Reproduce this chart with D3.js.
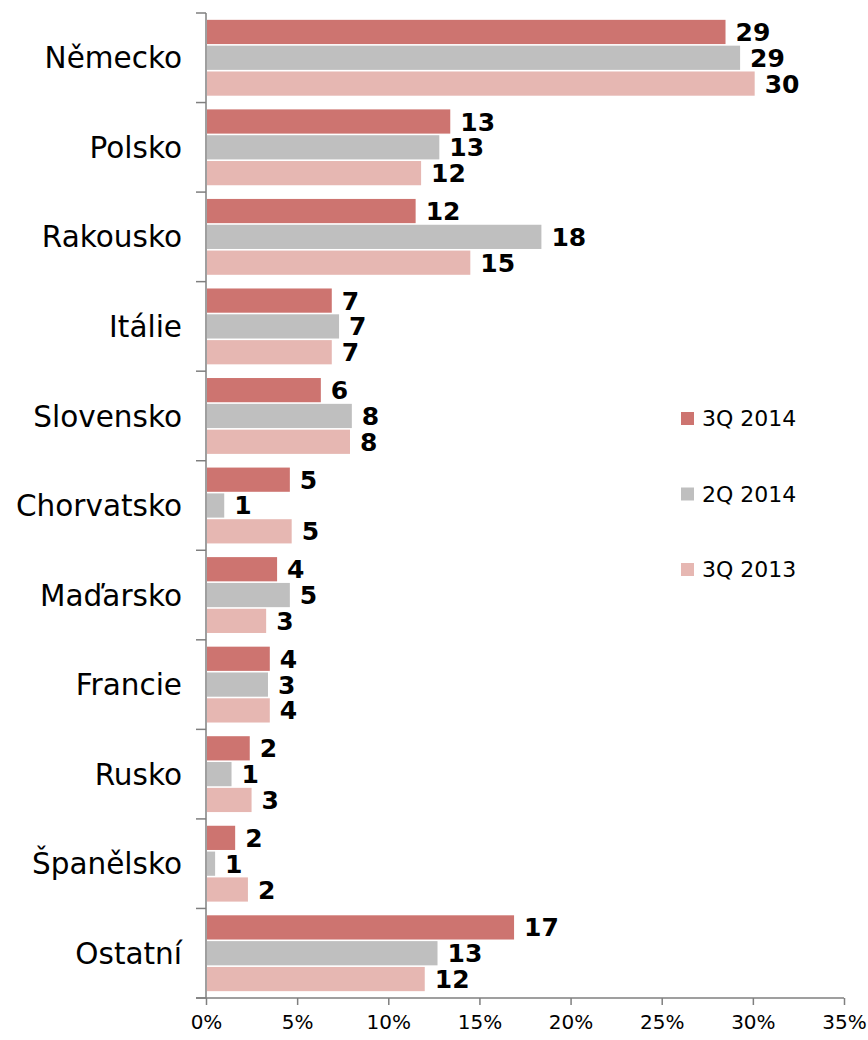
<!DOCTYPE html>
<html>
<head>
<meta charset="utf-8">
<script src="https://cdn.jsdelivr.net/npm/d3@7/dist/d3.min.js"></script>
<style>
  html, body { margin: 0; padding: 0; background: #fff; }
  svg { display: block; font-family: "DejaVu Sans", Verdana, sans-serif; }
</style>
</head>
<body>
<svg id="chart" width="868" height="1040"></svg>
<script>
// Countries (share in %), three periods
const categories = ["Německo", "Polsko", "Rakousko", "Itálie", "Slovensko", "Chorvatsko",
                    "Maďarsko", "Francie", "Rusko", "Španělsko", "Ostatní"];
const seriesNames = ["3Q 2014", "2Q 2014", "3Q 2013"];
const q3_2014 = [28.5, 13.4, 11.5, 6.9, 6.3, 4.6, 3.9, 3.5, 2.4, 1.6, 16.9];
const q2_2014 = [29.3, 12.8, 18.4, 7.3, 8.0, 1.0, 4.6, 3.4, 1.4, 0.5, 12.7];
const q3_2013 = [30.1, 11.8, 14.5, 6.9, 7.9, 4.7, 3.3, 3.5, 2.5, 2.3, 12.0];
const xTicks = [0, 5, 10, 15, 20, 25, 30, 35];
const colors = ["#cd7470", "#bfbfbf", "#e6b7b2"];

const seriesValues = [q3_2014, q2_2014, q3_2013];

const svg = d3.select("#chart");
const plotLeft = 206, plotRight = 844, plotTop = 13, plotBottom = 998;

const x = d3.scaleLinear().domain([0, 35]).range([plotLeft, plotRight]);
const y = d3.scaleBand().domain(categories).range([plotTop, plotBottom])
  .paddingInner(0.135).paddingOuter(0.0675);
const ySub = d3.scaleBand().domain(seriesNames).range([0, y.bandwidth()]);

// Bars
const groups = svg.append("g").selectAll("g")
  .data(categories)
  .join("g")
  .attr("transform", d => `translate(0,${y(d)})`);

groups.selectAll("rect")
  .data((c, i) => seriesNames.map((s, k) => ({ s, k, v: seriesValues[k][i] })))
  .join("rect")
  .attr("x", x(0) + 1)
  .attr("y", d => ySub(d.s) + 0.8)
  .attr("width", d => x(d.v) - x(0) - 1)
  .attr("height", ySub.bandwidth() - 1.6)
  .attr("fill", d => colors[d.k]);

// Value labels
groups.selectAll("text")
  .data((c, i) => seriesNames.map((s, k) => ({ s, k, v: seriesValues[k][i] })))
  .join("text")
  .attr("x", d => x(d.v) + 10)
  .attr("y", d => ySub(d.s) + ySub.bandwidth() / 2)
  .attr("dy", "0.36em")
  .attr("font-size", 25)
  .attr("font-weight", "bold")
  .attr("fill", "#000")
  .text(d => Math.round(d.v));

// Y axis with boundary ticks
const axisColor = "#7f7f7f";
svg.append("line")
  .attr("x1", plotLeft).attr("x2", plotLeft)
  .attr("y1", plotTop).attr("y2", plotBottom)
  .attr("stroke", axisColor).attr("stroke-width", 1.5);
const boundaries = categories.map(c => y(c) - y.step() * y.paddingInner() / 2);
boundaries.push(plotBottom);
boundaries[0] = plotTop;
svg.append("g").selectAll("line")
  .data(boundaries)
  .join("line")
  .attr("x1", plotLeft - 10).attr("x2", plotLeft)
  .attr("y1", d => d).attr("y2", d => d)
  .attr("stroke", axisColor).attr("stroke-width", 1.5);

// Category labels
svg.append("g").selectAll("text")
  .data(categories)
  .join("text")
  .attr("x", 182)
  .attr("y", d => y(d) + y.bandwidth() / 2)
  .attr("dy", "0.36em")
  .attr("text-anchor", "end")
  .attr("font-size", 29.5)
  .attr("fill", "#000")
  .text(d => d);

// X axis
const xAxis = d3.axisBottom(x)
  .tickValues(xTicks)
  .tickSize(7)
  .tickPadding(10)
  .tickFormat(d => d + "%");
const gx = svg.append("g")
  .attr("transform", `translate(0,${plotBottom})`)
  .call(xAxis);
gx.select(".domain").remove();
gx.selectAll(".tick line").attr("stroke", axisColor).attr("stroke-width", 1.5);
gx.selectAll(".tick text")
  .attr("font-size", 20)
  .attr("font-family", "DejaVu Sans, Verdana, sans-serif")
  .attr("fill", "#000");
svg.append("line")
  .attr("x1", plotLeft - 10).attr("x2", plotRight)
  .attr("y1", plotBottom).attr("y2", plotBottom)
  .attr("stroke", axisColor).attr("stroke-width", 1.5);

// Legend
const legend = svg.append("g").selectAll("g")
  .data(seriesNames)
  .join("g")
  .attr("transform", (d, i) => `translate(681,${418.5 + i * 75.5})`);
legend.append("rect")
  .attr("x", 0).attr("y", -6.5)
  .attr("width", 13).attr("height", 13)
  .attr("fill", (d, i) => colors[i]);
legend.append("text")
  .attr("x", 21).attr("y", 0)
  .attr("dy", "0.36em")
  .attr("font-size", 22)
  .attr("fill", "#000")
  .text(d => d);
</script>
</body>
</html>
